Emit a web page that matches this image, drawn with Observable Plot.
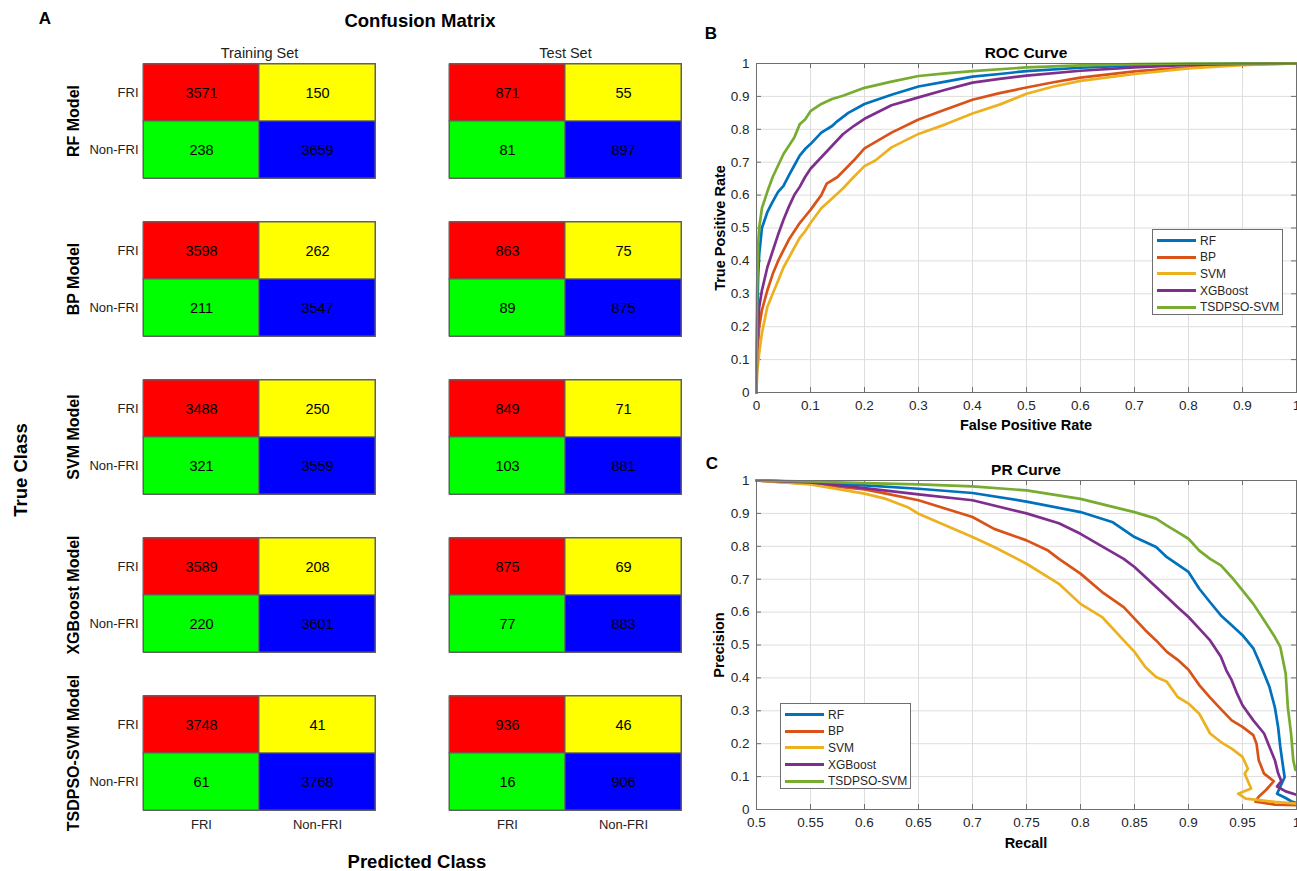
<!DOCTYPE html>
<html>
<head>
<meta charset="utf-8">
<script src="https://cdn.jsdelivr.net/npm/d3@7"></script>
<script src="https://cdn.jsdelivr.net/npm/@observablehq/plot@0.6"></script>
<style>
  html, body { margin: 0; padding: 0; background: #fff; }
  #fig { position: relative; width: 1297px; height: 871px; overflow: hidden; background: #fff; }
  #fig > .panel { position: absolute; }
  .lbl { position: absolute; white-space: nowrap; color: #000; transform-origin: center center; line-height: 1; }
  .legend { position: absolute; background: #fff; border: 1px solid #6e6e6e; box-sizing: border-box;
            font-family: "Liberation Sans", Arial, sans-serif; font-size: 12px; color: #262626; }
  .legend .row { position: absolute; left: 0; height: 16px; line-height: 16px; white-space: nowrap; }
  .legend .sw { position: absolute; top: 6.5px; height: 3px; }
  .legend .tx { position: absolute; top: 0; white-space: nowrap; }
</style>
</head>
<body>
<div id="fig"></div>
<script>
// ---------------- data ----------------
const models = ["RF Model", "BP Model", "SVM Model", "XGBoost Model", "TSDPSO-SVM Model"];
const sets = ["Training Set", "Test Set"];
const classes = ["FRI", "Non-FRI"];
// order: (FRI,FRI), (FRI,Non-FRI), (Non-FRI,FRI), (Non-FRI,Non-FRI)
const trainCounts = [
  [3571, 150, 238, 3659],
  [3598, 262, 211, 3547],
  [3488, 250, 321, 3559],
  [3589, 208, 220, 3601],
  [3748, 41, 61, 3768]
];
const testCounts = [
  [871, 55, 81, 897],
  [863, 75, 89, 875],
  [849, 71, 103, 881],
  [875, 69, 77, 883],
  [936, 46, 16, 906]
];
const cellColors = ["#ff0000", "#ffff00", "#00ff00", "#0000ff"];

const seriesNames = ["RF", "BP", "SVM", "XGBoost", "TSDPSO-SVM"];
const seriesColors = ["#0072BD", "#D95319", "#EDB120", "#7E2F8E", "#77AC30"];

// ROC curves: [false positive rate, true positive rate]
const rocRF = [[0,0],[0.001,0.2],[0.003,0.35],[0.005,0.42],[0.01,0.5],[0.02,0.548],[0.03,0.58],[0.04,0.61],[0.05,0.628],[0.06,0.66],[0.07,0.69],[0.08,0.72],[0.09,0.74],[0.1,0.755],[0.12,0.79],[0.14,0.81],[0.15,0.825],[0.17,0.85],[0.2,0.877],[0.25,0.905],[0.3,0.93],[0.35,0.945],[0.4,0.96],[0.45,0.968],[0.5,0.977],[0.6,0.987],[0.7,0.994],[0.8,0.998],[0.9,1],[1,1]];
const rocBP = [[0,0],[0.001,0.1],[0.005,0.2],[0.01,0.25],[0.02,0.31],[0.03,0.36],[0.04,0.4],[0.05,0.433],[0.06,0.465],[0.07,0.49],[0.08,0.515],[0.09,0.535],[0.1,0.555],[0.12,0.6],[0.13,0.635],[0.15,0.655],[0.18,0.705],[0.2,0.742],[0.25,0.79],[0.3,0.83],[0.35,0.86],[0.4,0.89],[0.45,0.91],[0.5,0.927],[0.55,0.943],[0.6,0.957],[0.7,0.976],[0.8,0.988],[0.9,0.997],[1,1]];
const rocSVM = [[0,0],[0.001,0.06],[0.005,0.12],[0.01,0.18],[0.02,0.26],[0.03,0.3],[0.04,0.34],[0.05,0.38],[0.06,0.41],[0.07,0.44],[0.08,0.47],[0.09,0.49],[0.1,0.515],[0.12,0.56],[0.14,0.59],[0.16,0.62],[0.18,0.655],[0.2,0.688],[0.22,0.705],[0.25,0.745],[0.3,0.786],[0.35,0.815],[0.4,0.848],[0.45,0.875],[0.5,0.908],[0.55,0.93],[0.6,0.947],[0.7,0.968],[0.8,0.985],[0.9,0.995],[1,1]];
const rocXGB = [[0,0],[0.001,0.15],[0.005,0.26],[0.01,0.31],[0.02,0.38],[0.03,0.43],[0.04,0.48],[0.05,0.525],[0.06,0.565],[0.07,0.6],[0.08,0.625],[0.09,0.655],[0.1,0.68],[0.12,0.715],[0.14,0.75],[0.16,0.785],[0.18,0.81],[0.2,0.832],[0.25,0.873],[0.3,0.897],[0.35,0.92],[0.4,0.942],[0.45,0.953],[0.5,0.963],[0.6,0.978],[0.7,0.988],[0.8,0.996],[0.9,0.999],[1,1]];
const rocTSD = [[0,0],[0.001,0.3],[0.003,0.45],[0.005,0.5],[0.01,0.56],[0.02,0.61],[0.03,0.655],[0.04,0.69],[0.05,0.725],[0.06,0.75],[0.07,0.775],[0.08,0.815],[0.09,0.83],[0.1,0.855],[0.12,0.877],[0.14,0.892],[0.16,0.902],[0.2,0.926],[0.25,0.945],[0.3,0.962],[0.35,0.97],[0.4,0.977],[0.5,0.988],[0.6,0.994],[0.7,0.998],[0.8,1],[1,1]];

// PR curves: [recall, precision]
const prRF = [[0.5,1],[0.55,0.995],[0.6,0.985],[0.65,0.975],[0.7,0.962],[0.75,0.936],[0.8,0.904],[0.83,0.873],[0.85,0.828],[0.87,0.798],[0.88,0.767],[0.9,0.722],[0.91,0.671],[0.92,0.63],[0.93,0.59],[0.94,0.56],[0.95,0.53],[0.96,0.49],[0.965,0.453],[0.97,0.413],[0.975,0.372],[0.98,0.31],[0.983,0.25],[0.985,0.19],[0.988,0.12],[0.989,0.098],[0.982,0.048],[0.99,0.035],[0.995,0.025],[1,0.02]];
const prBP = [[0.5,1],[0.55,0.99],[0.6,0.973],[0.62,0.96],[0.65,0.94],[0.7,0.889],[0.72,0.853],[0.75,0.818],[0.77,0.787],[0.78,0.762],[0.8,0.717],[0.82,0.661],[0.84,0.615],[0.85,0.58],[0.86,0.545],[0.87,0.514],[0.88,0.479],[0.89,0.455],[0.9,0.425],[0.91,0.378],[0.92,0.34],[0.93,0.305],[0.94,0.271],[0.95,0.251],[0.96,0.226],[0.963,0.2],[0.965,0.15],[0.97,0.109],[0.979,0.086],[0.972,0.06],[0.965,0.039],[0.962,0.024],[0.98,0.015],[1,0.013]];
const prSVM = [[0.5,1],[0.55,0.988],[0.6,0.96],[0.62,0.944],[0.64,0.919],[0.65,0.899],[0.7,0.828],[0.72,0.798],[0.75,0.747],[0.77,0.706],[0.78,0.686],[0.8,0.625],[0.82,0.585],[0.84,0.514],[0.85,0.479],[0.86,0.433],[0.87,0.403],[0.88,0.388],[0.89,0.342],[0.9,0.322],[0.91,0.291],[0.92,0.231],[0.93,0.205],[0.94,0.185],[0.95,0.16],[0.955,0.124],[0.952,0.109],[0.958,0.064],[0.946,0.048],[0.953,0.033],[0.98,0.023],[1,0.018]];
const prXGB = [[0.5,1],[0.55,0.994],[0.6,0.977],[0.65,0.958],[0.7,0.94],[0.75,0.9],[0.78,0.87],[0.8,0.838],[0.82,0.8],[0.84,0.762],[0.85,0.737],[0.87,0.676],[0.88,0.646],[0.89,0.615],[0.9,0.585],[0.91,0.55],[0.92,0.514],[0.93,0.464],[0.935,0.423],[0.94,0.393],[0.945,0.352],[0.95,0.317],[0.96,0.271],[0.97,0.231],[0.975,0.19],[0.98,0.15],[0.983,0.11],[0.986,0.086],[0.982,0.07],[0.99,0.055],[1,0.045]];
const prTSD = [[0.5,1],[0.55,0.997],[0.6,0.992],[0.65,0.988],[0.7,0.982],[0.75,0.97],[0.8,0.944],[0.83,0.92],[0.85,0.904],[0.87,0.884],[0.88,0.863],[0.89,0.843],[0.9,0.823],[0.91,0.787],[0.92,0.762],[0.93,0.742],[0.94,0.706],[0.95,0.666],[0.96,0.625],[0.97,0.575],[0.98,0.524],[0.985,0.494],[0.99,0.413],[0.992,0.31],[0.995,0.23],[0.997,0.15],[0.999,0.12],[1,0.12]];

const rocTicks = [0,0.1,0.2,0.3,0.4,0.5,0.6,0.7,0.8,0.9,1];
const prXTicks = [0.5,0.55,0.6,0.65,0.7,0.75,0.8,0.85,0.9,0.95,1];
const prYTicks = [0,0.1,0.2,0.3,0.4,0.5,0.6,0.7,0.8,0.9,1];

// ---------------- helpers ----------------
const fig = document.getElementById("fig");
const SANS = '"Liberation Sans", Arial, Helvetica, sans-serif';
function addLabel(text, x, y, opts = {}) {
  const d = document.createElement("div");
  d.className = "lbl";
  d.textContent = text;
  d.style.left = x + "px";
  d.style.top = y + "px";
  d.style.fontSize = (opts.size || 14) + "px";
  d.style.fontWeight = opts.weight || "bold";
  d.style.fontFamily = opts.family || SANS;
  d.style.color = opts.color || "#000";
  d.style.transform = "translate(-50%,-50%)" + (opts.rotate ? ` rotate(${opts.rotate}deg)` : "");
  fig.appendChild(d);
}
function place(node, left, top) {
  node.classList.add("panel");
  node.style.left = left + "px";
  node.style.top = top + "px";
  fig.appendChild(node);
}
function addLegend(left, top, width, height, rowTop, step, swX, swW, txX) {
  const lg = document.createElement("div");
  lg.className = "legend";
  lg.style.left = left + "px"; lg.style.top = top + "px";
  lg.style.width = width + "px"; lg.style.height = height + "px";
  seriesNames.forEach((name, i) => {
    const row = document.createElement("div");
    row.className = "row";
    row.style.top = (rowTop + i * step - 8) + "px";
    row.style.width = "100%";
    const sw = document.createElement("div");
    sw.className = "sw"; sw.style.left = swX + "px"; sw.style.width = swW + "px";
    sw.style.background = seriesColors[i];
    const tx = document.createElement("div");
    tx.className = "tx"; tx.style.left = txX + "px"; tx.textContent = name;
    row.appendChild(sw); row.appendChild(tx);
    lg.appendChild(row);
  });
  fig.appendChild(lg);
}
const fmt = d => String(+d.toFixed(2));

// ---------------- Panel A: confusion matrices ----------------
const cells = [];
models.forEach((m, mi) => {
  [trainCounts, testCounts].forEach((counts, si) => {
    counts[mi].forEach((v, k) => {
      cells.push({model: m, set: sets[si], truth: classes[Math.floor(k / 2)], pred: classes[k % 2], value: v, fill: cellColors[k]});
    });
  });
});

const cm = Plot.plot({
  width: 700, height: 871,
  marginLeft: 142, marginRight: 18, marginTop: 62, marginBottom: 61,
  style: {fontFamily: SANS, fontSize: "13px", color: "#222", background: "transparent"},
  fx: {domain: sets, paddingInner: 0.241, paddingOuter: 0, label: null},
  fy: {domain: models, paddingInner: 0.273, paddingOuter: 0, axis: null, label: null},
  x: {domain: classes, padding: 0, label: null, tickSize: 0, tickPadding: 9},
  y: {domain: classes, padding: 0, label: null, tickSize: 0, tickPadding: 5},
  marks: [
    Plot.axisFx({anchor: "top", tickSize: 0, tickPadding: 6, fontSize: 14.5, label: null, fill: "#222"}),
    Plot.cell(cells, {fx: "set", fy: "model", x: "pred", y: "truth", fill: "fill", stroke: "#606060", strokeWidth: 1}),
    Plot.text(cells, {fx: "set", fy: "model", x: "pred", y: "truth", text: d => String(d.value), fontSize: 14.5, fill: "#000"}),
    Plot.text(models, {fx: () => "Training Set", fy: d => d, text: d => d, frameAnchor: "left", textAnchor: "middle",
      dx: -70, rotate: -90, fontWeight: "bold", fontSize: 16, fill: "#000"}),
    Plot.frame({stroke: "#606060"})
  ]
});
place(cm, 0, 0);

addLabel("A", 45, 18, {size: 17});
addLabel("Confusion Matrix", 420, 21, {size: 18.5});
addLabel("True Class", 21, 470, {size: 18.5, rotate: -90});
addLabel("Predicted Class", 417, 862, {size: 18.5});

// ---------------- line data ----------------
function toRows(list) {
  const rows = [];
  list.forEach((arr, i) => arr.forEach(([x, y]) => rows.push({series: seriesNames[i], x, y})));
  return rows;
}
const rocRows = toRows([rocRF, rocBP, rocSVM, rocXGB, rocTSD]);
const prRows = toRows([prRF, prBP, prSVM, prXGB, prTSD]);

function curvePlot(rows, xDomain, xTicks, yTicks, dims) {
  const xs = (xDomain[1] - xDomain[0]);
  const tx = 5 / dims.pw * xs;      // 5px inward tick in data units
  const ty = 5 / dims.ph;
  return Plot.plot({
    width: dims.width, height: dims.height,
    marginLeft: dims.ml, marginRight: dims.mr, marginTop: dims.mt, marginBottom: dims.mb,
    style: {fontFamily: SANS, fontSize: "13.5px", color: "#262626", background: "transparent", overflow: "visible"},
    x: {domain: xDomain},
    y: {domain: [0, 1]},
    color: {domain: seriesNames, range: seriesColors},
    marks: [
      Plot.gridX(xTicks, {stroke: "#dedede", strokeOpacity: 1}),
      Plot.gridY(yTicks, {stroke: "#dedede", strokeOpacity: 1}),
      Plot.ruleX(xTicks, {x: d => d, y1: 0, y2: ty, stroke: "#6e6e6e"}),
      Plot.ruleX(xTicks, {x: d => d, y1: 1 - ty, y2: 1, stroke: "#6e6e6e"}),
      Plot.ruleY(yTicks, {y: d => d, x1: xDomain[0], x2: xDomain[0] + tx, stroke: "#6e6e6e"}),
      Plot.ruleY(yTicks, {y: d => d, x1: xDomain[1] - tx, x2: xDomain[1], stroke: "#6e6e6e"}),
      Plot.axisX(xTicks, {tickSize: 0, tickPadding: dims.xpad, tickFormat: fmt, label: null, fill: "#262626"}),
      Plot.axisY(yTicks, {tickSize: 0, tickPadding: 7, tickFormat: fmt, label: null, fill: "#262626"}),
      Plot.line(rows, {x: "x", y: "y", z: "series", stroke: "series", strokeWidth: 2.7, strokeLinejoin: "round"}),
      Plot.frame({stroke: "#6e6e6e"})
    ]
  });
}

// ---------------- Panel B: ROC ----------------
const roc = curvePlot(rocRows, [0, 1], rocTicks, rocTicks,
  {width: 597, height: 420, ml: 56, mr: 1, mt: 33, mb: 58, pw: 540, ph: 329, xpad: 8});
place(roc, 700, 30);
addLabel("B", 711, 33, {size: 17});
addLabel("ROC Curve", 1026, 53, {size: 15.5});
addLabel("True Positive Rate", 720, 228, {size: 14.5, rotate: -90});
addLabel("False Positive Rate", 1026, 425, {size: 14.5});
addLegend(1152, 229, 131, 86, 10.5, 16.7, 4, 39, 47);

// ---------------- Panel C: PR ----------------
const pr = curvePlot(prRows, [0.5, 1], prXTicks, prYTicks,
  {width: 597, height: 421, ml: 56, mr: 1, mt: 30, mb: 62, pw: 540, ph: 329, xpad: 8});
place(pr, 700, 450);
addLabel("C", 712, 463, {size: 17});
addLabel("PR Curve", 1026, 470, {size: 15.5});
addLabel("Precision", 719, 645, {size: 14.5, rotate: -90});
addLabel("Recall", 1026, 843, {size: 14.5});
addLegend(780, 703, 131, 86, 10.5, 16.7, 4, 39, 47);
</script>
</body>
</html>
